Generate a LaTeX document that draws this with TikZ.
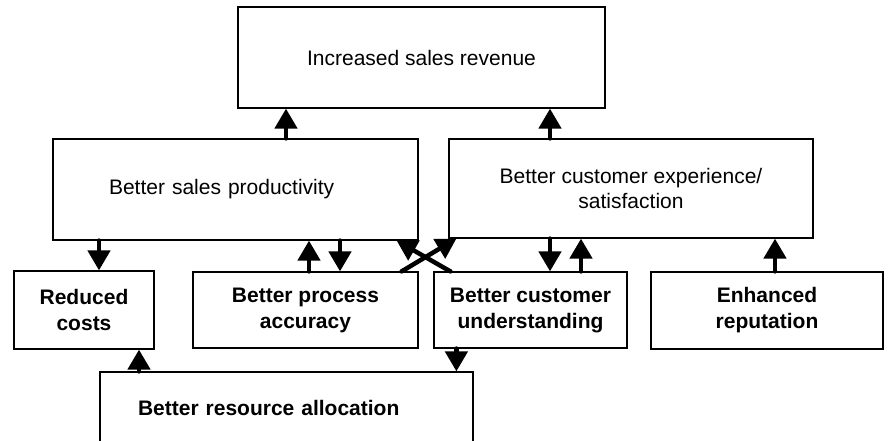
\documentclass[tikz,border=0pt]{standalone}
\usepackage{fontspec}
\setmainfont{Liberation Sans}
\usetikzlibrary{arrows.meta,positioning,shapes}

\begin{document}
\begin{tikzpicture}[x=1pt,y=-1pt]
			\tikzstyle{box} = [rectangle, draw, line width=1.2pt, align=center, inner sep=0pt, font=\fontsize{21}{25.5}\selectfont]
			\tikzstyle{goal} = [box, font=\fontsize{21}{26}\selectfont\bfseries]
			\tikzstyle{arrow} = [draw, line width=4.5pt, line cap=round, -{Triangle[length=20pt,width=22pt]}]

			\useasboundingbox (0,0) rectangle (889,440);
			\clip (0,0) rectangle (889,440);

			\node [box, minimum width=367pt, minimum height=101pt] (revenue) at (421.5,57.5) {Increased sales revenue};
			\node [box, minimum width=365pt, minimum height=101pt, text width=253pt, inner xsep=56pt, align=left] (sales) at (235.5,189.5) {Better sales productivity};
			\node [box, minimum width=364pt, minimum height=99pt] (experience) at (631,188.5) {Better customer experience/\\satisfaction};
			\node [goal, minimum width=140pt, minimum height=78pt] (costs) at (84,310) {Reduced\\costs};
			\node [goal, minimum width=225pt, minimum height=76pt] (process) at (305.5,310) {Better process\\accuracy};
			\node [goal, minimum width=193pt, minimum height=76pt] (understanding) at (530.5,310) {Better customer\\understanding};
			\node [goal, minimum width=232pt, minimum height=77pt] (reputation) at (767,310.5) {Enhanced\\reputation};
			\node [goal, minimum width=373pt, minimum height=72pt, text width=297pt, inner xsep=38pt, align=left] (resource) at (286.5,408) {Better resource allocation};

			\draw[arrow] ([xshift=50.5pt]sales.north) -- ([xshift=50.5pt]sales.north |- revenue.south);
			\draw[arrow] ([xshift=-81pt]experience.north) -- ([xshift=-81pt]experience.north |- revenue.south);
			\draw[arrow] ([xshift=15pt]costs.north |- sales.south) -- ([xshift=15pt]costs.north);
			\draw[arrow] ([xshift=3.5pt]process.north) -- ([xshift=3.5pt]process.north |- sales.south);
			\draw[arrow] ([xshift=34.5pt]process.north |- sales.south) -- ([xshift=34.5pt]process.north);
			\draw[arrow] ([xshift=19.5pt]understanding.north |- experience.south) -- ([xshift=19.5pt]understanding.north);
			\draw[arrow] ([xshift=50.5pt]understanding.north) -- ([xshift=50.5pt]understanding.north |- experience.south);
			\draw[arrow] ([xshift=8pt]reputation.north) -- ([xshift=8pt]reputation.north |- experience.south);
			\draw[arrow] ([xshift=-17pt]process.north east) -- ([xshift=8pt]experience.south west);
			\draw[arrow] ([xshift=17pt]understanding.north west) -- ([xshift=-22pt]sales.south east);
			\draw[arrow] ([xshift=55pt]costs.south |- resource.north) -- ([xshift=55pt]costs.south);
			\draw[arrow] ([xshift=23pt]understanding.south west) -- ([xshift=23pt]understanding.south west |- resource.north);
		\end{tikzpicture}
\end{document}
